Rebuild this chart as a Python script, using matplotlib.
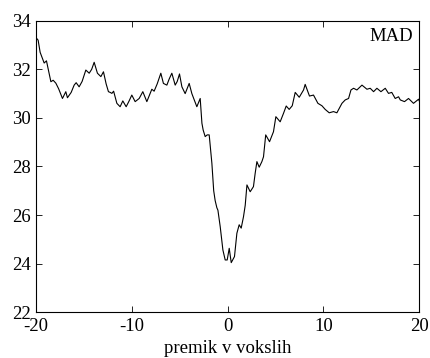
import numpy as np
import matplotlib
matplotlib.use('Agg')
import matplotlib.pyplot as plt

plt.rcParams['font.family'] = ['Liberation Serif', 'DejaVu Serif']
plt.rcParams['axes.unicode_minus'] = False

# premik (x) in MAD vrednosti (y), odcitano s slike
premik = [-20.0, -19.79, -19.58, -19.16, -18.92, -18.46, -18.22, -17.94, -17.65, -17.25,
          -16.90, -16.73, -16.34, -16.03, -15.82, -15.51, -15.20, -14.81, -14.46, -14.20,
          -13.94, -13.60, -13.24, -12.97, -12.69, -12.45, -12.27, -12.09, -11.91, -11.57,
          -11.23, -10.95, -10.60, -10.29, -10.01, -9.66, -9.24, -8.86, -8.44, -7.92,
          -7.68, -7.36, -6.98, -6.71, -6.35, -6.11, -5.83, -5.48, -5.27, -5.03,
          -4.78, -4.44, -4.02, -3.74, -3.50, -3.22, -2.87, -2.69, -2.56, -2.35,
          -2.14, -1.93, -1.65, -1.46, -1.31, -1.13, -1.02, -0.78, -0.50, -0.26,
          -0.05, 0.16, 0.37, 0.71, 0.96, 1.20, 1.41, 1.65, 1.83, 2.01,
          2.35, 2.69, 2.87, 3.05, 3.29, 3.57, 3.74, 3.97, 4.37, 4.78,
          5.03, 5.48, 5.83, 6.11, 6.42, 6.74, 7.05, 7.47, 7.92, 8.09,
          8.54, 8.96, 9.42, 9.84, 10.18, 10.60, 11.05, 11.40, 11.93, 12.27,
          12.62, 12.87, 13.14, 13.49, 14.02, 14.54, 14.88, 15.23, 15.58, 16.00,
          16.45, 16.79, 17.13, 17.49, 17.84, 18.02, 18.46, 18.88, 19.40, 19.93, 20.0]
mad = [33.3, 33.2, 32.7, 32.26, 32.35, 31.49, 31.55, 31.43, 31.2, 30.8,
       31.08, 30.83, 31.05, 31.35, 31.45, 31.28, 31.5, 31.97, 31.84, 32.0,
       32.29, 31.84, 31.7, 31.9, 31.4, 31.08, 31.05, 31.01, 31.1, 30.6,
       30.46, 30.7, 30.46, 30.7, 30.94, 30.67, 30.8, 31.08, 30.67, 31.18,
       31.1, 31.4, 31.84, 31.42, 31.35, 31.6, 31.84, 31.35, 31.5, 31.81,
       31.28, 31.0, 31.42, 31.0, 30.75, 30.46, 30.8, 29.78, 29.5, 29.23,
       29.3, 29.3, 28.13, 27.0, 26.6, 26.3, 26.2, 25.52, 24.56, 24.15,
       24.15, 24.63, 24.04, 24.29, 25.25, 25.6, 25.46, 25.93, 26.4, 27.24,
       26.96, 27.17, 27.72, 28.2, 27.97, 28.2, 28.4, 29.3, 29.02, 29.43,
       30.05, 29.84, 30.19, 30.49, 30.35, 30.5, 31.05, 30.85, 31.15, 31.38,
       30.9, 30.94, 30.6, 30.5, 30.35, 30.21, 30.26, 30.21, 30.6, 30.74,
       30.8, 31.15, 31.22, 31.15, 31.35, 31.18, 31.22, 31.08, 31.22, 31.08,
       31.22, 31.01, 31.05, 30.8, 30.87, 30.74, 30.67, 30.8, 30.6, 30.77, 30.7]

xticks = [-20, -10, 0, 10, 20]
yticks = [22, 24, 26, 28, 30, 32, 34]

fig = plt.figure(figsize=(4.3, 3.58), dpi=100)
ax = fig.add_axes([0.084, 0.128, 0.891, 0.814])
ax.plot(premik, mad, color='black', linewidth=0.8)

ax.set_xlim(-20, 20)
ax.set_ylim(22, 34)
ax.set_xticks(xticks)
ax.set_yticks(yticks)
ax.tick_params(direction='in', top=True, right=True, length=4, width=0.6,
               labelsize=13.5)
ax.tick_params(axis='x', pad=4)
ax.tick_params(axis='y', pad=4)
for s in ax.spines.values():
    s.set_linewidth(0.8)
ax.set_xlabel('premik v vokslih', fontsize=13.5, labelpad=4)
ax.text(0.985, 0.975, 'MAD', transform=ax.transAxes, ha='right', va='top', fontsize=13.5)

fig.savefig('out.png', dpi=100)
